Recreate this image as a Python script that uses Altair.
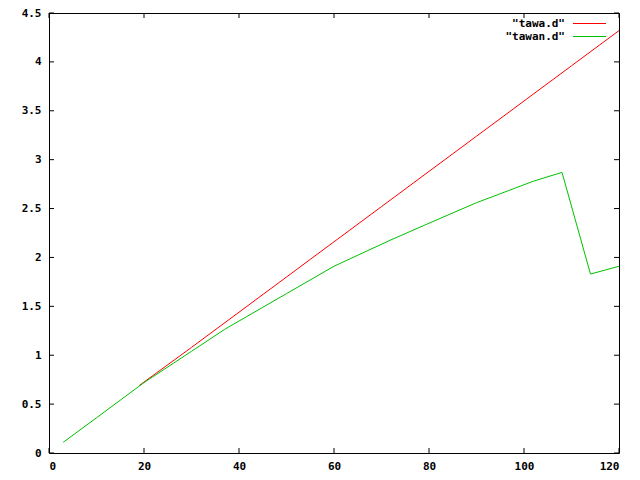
import altair as alt
import pandas as pd

# ---- data ----
series_names = ['"tawa.d"', '"tawan.d"']
series_colors = ["#ff0000", "#00c000"]

tawa_x = [19, 30, 40, 50, 60, 70, 80, 90, 100, 110, 120]
tawa_y = [0.69, 1.08, 1.44, 1.80, 2.16, 2.52, 2.88, 3.24, 3.60, 3.96, 4.32]

tawan_x = [3, 10, 20, 30, 37, 45, 50, 60, 72, 80, 90, 102, 108, 114, 120]
tawan_y = [0.11, 0.36, 0.72, 1.04, 1.265, 1.49, 1.63, 1.91, 2.18, 2.35, 2.56, 2.78, 2.87, 1.83, 1.91]

x_ticks = [0, 20, 40, 60, 80, 100, 120]
y_ticks = [0, 0.5, 1, 1.5, 2, 2.5, 3, 3.5, 4, 4.5]

W, H = 570, 440
TICK = 5
FONT = "DejaVu Sans Mono"

df = pd.concat([
    pd.DataFrame({"x": tawa_x, "y": tawa_y, "series": series_names[0]}),
    pd.DataFrame({"x": tawan_x, "y": tawan_y, "series": series_names[1]}),
])

xs = alt.Scale(domain=[0, 120], nice=False, zero=False)
ys = alt.Scale(domain=[0, 4.5], nice=False, zero=False)
cs = alt.Scale(domain=series_names, range=series_colors)

x_axis = alt.Axis(values=x_ticks, title=None, grid=False, ticks=False,
                  labelPadding=7, format="d", domain=False,
                  labelFont=FONT, labelFontSize=11, labelFontWeight="bold",
                  labelColor="black")
y_axis = alt.Axis(values=y_ticks, title=None, grid=False, ticks=False,
                  labelPadding=8, format=".1~f", domain=False,
                  labelFont=FONT, labelFontSize=11, labelFontWeight="bold",
                  labelColor="black")

lines = alt.Chart(df).mark_line(strokeWidth=1).encode(
    x=alt.X("x:Q", scale=xs, axis=x_axis),
    y=alt.Y("y:Q", scale=ys, axis=y_axis),
    color=alt.Color("series:N", scale=cs, legend=None),
    detail="series:N",
)

ytdf = pd.DataFrame({"x": [0] * len(y_ticks), "y": y_ticks})
xtdf = pd.DataFrame({"x": x_ticks, "y": [0] * len(x_ticks)})

ytick_l = alt.Chart(ytdf).mark_rule(color="black", strokeWidth=1).encode(
    y=alt.Y("y:Q", scale=ys, axis=y_axis), x=alt.value(0), x2=alt.value(TICK))
ytick_r = alt.Chart(ytdf).mark_rule(color="black", strokeWidth=1).encode(
    y=alt.Y("y:Q", scale=ys, axis=y_axis), x=alt.value(W - TICK), x2=alt.value(W))
xtick_b = alt.Chart(xtdf).mark_rule(color="black", strokeWidth=1).encode(
    x=alt.X("x:Q", scale=xs, axis=x_axis), y=alt.value(H - TICK), y2=alt.value(H))
xtick_t = alt.Chart(xtdf).mark_rule(color="black", strokeWidth=1).encode(
    x=alt.X("x:Q", scale=xs, axis=x_axis), y=alt.value(0), y2=alt.value(TICK))

# legend (gnuplot style key, text left of sample line), positioned in pixels
leg_text_df = pd.DataFrame({"series": series_names, "py": [10.5, 23.5], "tx": [516, 516]})
leg_line_df = pd.DataFrame({"series": series_names * 2, "py": [10.5, 23.5] * 2,
                            "px": [524, 524, 557, 557]})

leg_text = alt.Chart(leg_text_df).mark_text(align="right", baseline="middle", font=FONT,
                                            fontSize=11, fontWeight="bold", color="black").encode(
    text="series:N",
    x=alt.X("tx:Q", scale=None, axis=None),
    y=alt.Y("py:Q", scale=None, axis=None))
leg_line = alt.Chart(leg_line_df).mark_line(strokeWidth=1).encode(
    x=alt.X("px:Q", scale=None, axis=None),
    y=alt.Y("py:Q", scale=None, axis=None),
    detail="series:N",
    color=alt.Color("series:N", scale=cs, legend=None))

main = alt.layer(lines, ytick_l, ytick_r, xtick_b, xtick_t)
chart = alt.layer(main, leg_text, leg_line).properties(
    width=W, height=H,
    autosize=alt.AutoSizeParams(type="none"),
    padding={"left": 41, "top": 5, "right": 13, "bottom": 19},
    background="white",
).configure_view(stroke="black", strokeWidth=1)

chart.save("out.html", embed_options={"renderer": "svg", "actions": False})
